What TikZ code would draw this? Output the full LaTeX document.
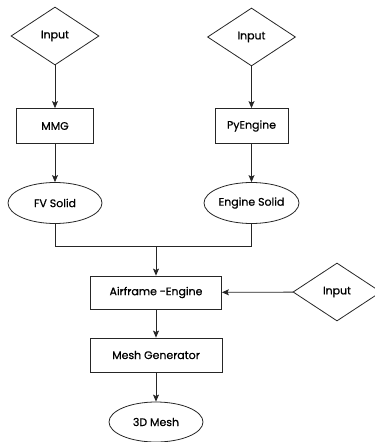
\documentclass[tikz,border=0pt]{standalone}
\usepackage{fontspec}
\setmainfont{Poppins}[FakeBold=0.6]
\usetikzlibrary{shapes,arrows,arrows.meta}
\usetikzlibrary{positioning}

\begin{document}
\begin{tikzpicture}[>={Stealth[length=7bp,width=6bp,inset=1.5bp]},x=1bp,y=-1bp,
            font=\fontsize{11}{13}\selectfont,
            line width=0.8bp,
            draw=black!85,
            inp/.style={diamond,draw,minimum width=88bp,minimum height=58bp,inner sep=0pt,shape aspect=1.5},
            proc/.style={rectangle,draw,minimum height=35bp,inner sep=0pt},
            res/.style={ellipse,draw,minimum width=94bp,minimum height=41bp,inner sep=0pt},
            ]
\useasboundingbox (0,0) rectangle (374,442);
\node[inp] (in1) at (55,36) {Input};
\node[inp] (in2) at (251.5,37) {Input};
\node[proc,minimum width=77bp] (mmg) at (55,126) {MMG};
\node[proc,minimum width=73bp] (pye) at (251.5,126) {PyEngine};
\node[res] (fvs) at (55,203) {FV Solid};
\node[res,minimum width=95bp] (ens) at (251.5,203) {Engine Solid};
\coordinate (mrg) at (156,246);
\node[proc,minimum width=131bp,minimum height=33bp] (afe) at (156,292.5) {Airframe -Engine};
\node[inp] (in3) at (337,292) {Input};
\node[proc,minimum width=132bp,minimum height=34bp] (msh) at (156,355) {Mesh Generator};
\node[res,minimum height=40bp] (m3d) at (156,422) {3D Mesh};
\draw[->] (in1) -- (mmg);
\draw[->] (mmg) -- (fvs);
\draw[->] (in2) -- (pye);
\draw[->] (pye) -- (ens);
\draw (fvs) |- (mrg);
\draw (ens) |- (mrg);
\draw[->] (mrg) -- (afe);
\draw[->] (in3) -- (afe);
\draw[->] (afe) -- (msh);
\draw[->] (msh) -- (m3d);
\end{tikzpicture}
\end{document}
